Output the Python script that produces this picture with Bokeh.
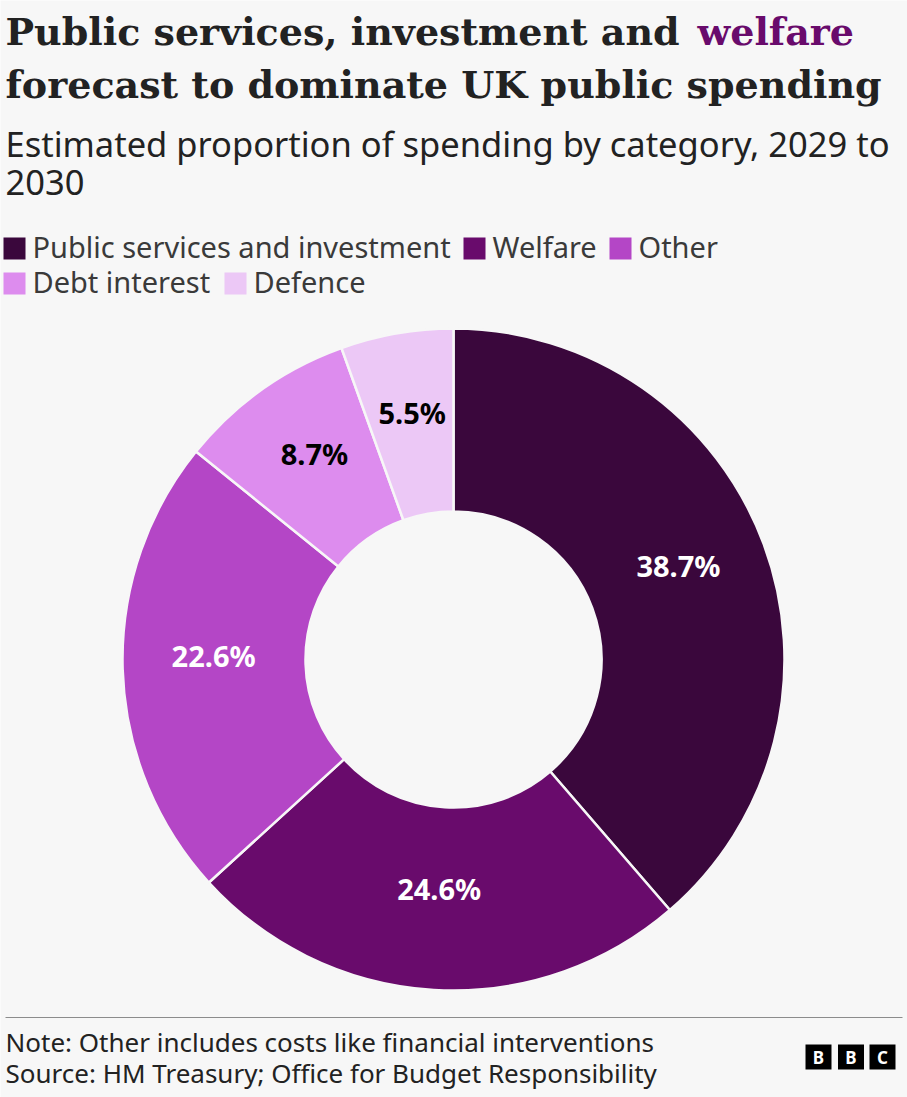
import numpy as np
from bokeh.plotting import figure
from bokeh.models import Range1d, ColumnDataSource
from bokeh.embed import file_html
from bokeh.resources import INLINE
from bokeh.core.properties import value

# ---------------- data ----------------
categories = ["Public services and investment", "Welfare", "Other", "Debt interest", "Defence"]
shares = [38.7, 24.6, 22.6, 8.7, 5.5]
colors = ["#3a073c", "#690b6c", "#b446c6", "#dd8cee", "#ecc8f6"]
label_colors = ["#ffffff", "#ffffff", "#ffffff", "#000000", "#000000"]

title_line1 = "Public services, investment and "
title_highlight = "welfare"
title_line2 = "forecast to dominate UK public spending"
subtitle_lines = ["Estimated proportion of spending by category, 2029 to", "2030"]
note_text = "Note: Other includes costs like financial interventions"
source_text = "Source: HM Treasury; Office for Budget Responsibility"

# ---------------- layout ----------------
W, H = 907, 1097
BG = "#f7f7f7"
CX, CY = 453, 659          # donut centre (pixels from top)
R_OUT, R_IN = 331, 148
R_LAB = 240
K = 0.43                   # empirical baseline shift (fraction of font size)


def Y(ypix):
    return H - ypix


def YB(baseline, fs, k=K):
    """data y for a text whose baseline should sit at pixel row `baseline`"""
    return Y(baseline - k * fs)


p = figure(width=W, height=H, x_range=Range1d(0, W), y_range=Range1d(0, H),
           output_backend="svg", toolbar_location=None, min_border=0,
           x_axis_type=None, y_axis_type=None,
           background_fill_color=BG, border_fill_color=BG, outline_line_color=None)
p.grid.visible = False

# ---------------- donut ----------------
vals = np.array(shares, dtype=float)
frac = vals / vals.sum()
cum = np.concatenate([[0.0], np.cumsum(frac)])
start = np.pi / 2 - 2 * np.pi * cum[:-1]
end = np.pi / 2 - 2 * np.pi * cum[1:]
mid_frac = (cum[:-1] + cum[1:]) / 2
theta = 2 * np.pi * mid_frac

src = ColumnDataSource(dict(
    x=[CX] * len(vals), y=[Y(CY)] * len(vals),
    start=start, end=end, color=colors, cat=categories,
))
p.annular_wedge(x="x", y="y", inner_radius=R_IN, outer_radius=R_OUT,
                inner_radius_units="screen", outer_radius_units="screen",
                start_angle="start", end_angle="end", direction="clock",
                fill_color="color", line_color=BG, line_width=2.5, source=src)

LAB_FS = 29
lab_src = ColumnDataSource(dict(
    x=CX + R_LAB * np.sin(theta),
    y=[YB(CY - R_LAB * np.cos(t), LAB_FS, 0.37) for t in theta],
    text=[f"{v}%" for v in shares],
    color=label_colors,
))
p.text(x="x", y="y", text="text", source=lab_src, text_color="color",
       text_font=value("Noto Sans"), text_font_style="bold", text_font_size=f"{LAB_FS}px",
       text_align="center", text_baseline="alphabetic")

# ---------------- titles ----------------
TITLE_FONT = value("DejaVu Serif")
T_FS = 38
p.text(x=[5], y=[YB(47, T_FS)], text=[title_line1], text_font=TITLE_FONT, text_font_style="bold",
       text_font_size=f"{T_FS}px", text_color="#222222", text_baseline="alphabetic")
p.text(x=[697], y=[YB(47, T_FS)], text=[title_highlight], text_font=TITLE_FONT, text_font_style="bold",
       text_font_size=f"{T_FS}px", text_color="#690b6c", text_baseline="alphabetic")
p.text(x=[5], y=[YB(100, T_FS)], text=[title_line2], text_font=TITLE_FONT, text_font_style="bold",
       text_font_size=f"{T_FS}px", text_color="#222222", text_baseline="alphabetic")

S_FS = 34.5
p.text(x=[5, 5], y=[YB(158, S_FS), YB(197, S_FS)], text=subtitle_lines, text_font=value("Noto Sans"),
       text_font_size=f"{S_FS}px", text_color="#222222", text_baseline="alphabetic")

# ---------------- legend ----------------
leg_sq_x = [3, 463, 609, 3, 224]
leg_row_y = [237, 237, 237, 272, 272]
SQ = 22
L_FS = 29
leg_src = ColumnDataSource(dict(
    x=[x + SQ / 2 for x in leg_sq_x],
    y=[Y(y + SQ / 2) for y in leg_row_y],
    tx=[x + 29 for x in leg_sq_x],
    ty=[YB(y + SQ - 1, L_FS) for y in leg_row_y],
    color=colors, text=categories,
))
p.rect(x="x", y="y", width=SQ, height=SQ, width_units="screen", height_units="screen",
       fill_color="color", line_color=None, source=leg_src)
p.text(x="tx", y="ty", text="text", source=leg_src, text_font=value("Noto Sans"),
       text_font_size=f"{L_FS}px", text_color="#3a3a3a", text_baseline="alphabetic")

# ---------------- footer ----------------
p.segment(x0=[5], y0=[Y(1017)], x1=[902], y1=[Y(1017)], line_color="#8c8c8c", line_width=1)
F_FS = 26
p.text(x=[5, 5], y=[YB(1053, F_FS), YB(1084, F_FS)], text=[note_text, source_text],
       text_font=value("Noto Sans"), text_font_size=f"{F_FS}px", text_color="#222222",
       text_baseline="alphabetic")

logo_x = [818, 850.5, 882]
p.rect(x=logo_x, y=[Y(1056.5)] * 3, width=26, height=25, width_units="screen",
       height_units="screen", fill_color="#000000", line_color=None)
p.text(x=logo_x, y=[Y(1057)] * 3, text=["B", "B", "C"], text_font=value("Noto Sans"),
       text_font_style="bold", text_font_size="17px", text_color="#ffffff",
       text_align="center", text_baseline="middle")

open("out.html", "w").write(file_html(p, INLINE))
